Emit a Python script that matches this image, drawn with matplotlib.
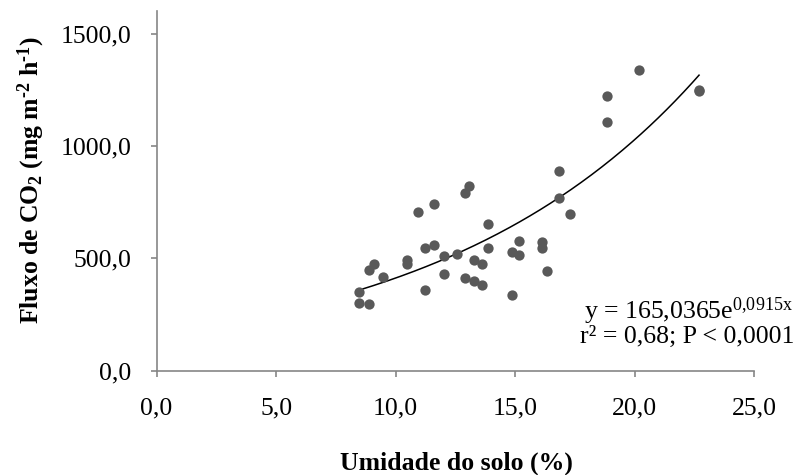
import numpy as np
import matplotlib
matplotlib.use('Agg')
import matplotlib.pyplot as plt

# Soil moisture (%) and CO2 flux (mg m-2 h-1) measurements
umidade = [20.18, 18.83, 18.83, 22.69, 22.69, 16.84, 16.84, 17.31, 13.06, 12.88,
           11.62, 10.92, 13.87, 15.14, 16.14, 16.14, 13.87, 11.62, 11.24, 12.55,
           12.03, 14.87, 15.14, 10.46, 10.46, 13.29, 13.61, 12.03, 16.31, 12.88,
           13.29, 13.61, 11.24, 14.87, 9.46, 9.11, 8.88, 8.48, 8.48, 8.88]
fluxo = [1338, 1222, 1109, 1252, 1244, 891, 769, 698, 823, 793,
         741, 706, 654, 577, 572, 544, 544, 557, 548, 520,
         510, 529, 516, 492, 474, 492, 474, 431, 444, 410,
         398, 379, 360, 336, 418, 476, 449, 351, 302, 295]

# Exponential fit y = a * exp(b * x)
a_fit = 165.0365
b_fit = 0.0915

FS = 18.5

plt.rcParams['font.family'] = 'Liberation Serif'
plt.rcParams['mathtext.fontset'] = 'custom'
plt.rcParams['mathtext.rm'] = 'Liberation Serif'
plt.rcParams['mathtext.bf'] = 'Liberation Serif:bold'
plt.rcParams['mathtext.it'] = 'Liberation Serif:italic'

fig = plt.figure(figsize=(7.99, 4.75), dpi=100)
ax = fig.add_axes([0.196, 0.22, 0.748, 0.756])

ax.scatter(umidade, fluxo, s=55, color='#595959', zorder=3, linewidths=0)

x_fit = np.linspace(min(umidade), max(umidade), 200)
ax.plot(x_fit, a_fit * np.exp(b_fit * x_fit), color='black', linewidth=1.1, zorder=2)

ax.set_xlim(0, 25)
ax.set_ylim(0, 1600)
ax.set_xticks([0, 5, 10, 15, 20, 25])
ax.set_yticks([0, 500, 1000, 1500])
ax.set_xticklabels(['0,0', '5,0', '10,0', '15,0', '20,0', '25,0'])
ax.set_yticklabels(['0,0', '500,0', '1000,0', '1500,0'])

for side in ['top', 'right']:
    ax.spines[side].set_visible(False)
for side in ['left', 'bottom']:
    ax.spines[side].set_color('#868686')
    ax.spines[side].set_linewidth(1.2)

ax.tick_params(axis='x', direction='out', length=4.5, width=1.2, color='#868686',
               labelsize=FS, pad=15)
ax.tick_params(axis='y', direction='out', length=4.5, width=1.2, color='#868686',
               labelsize=FS, pad=13.5)

fig.text(456 / 799, 1 - 470 / 475, 'Umidade do solo (%)', fontsize=FS,
         fontweight='bold', ha='center', va='baseline')
fig.text(31 / 799, 1 - 180 / 475,
         r'$\mathbf{Fluxo\ de\ CO_2\ (mg\ m^{‐2}\ h^{‐1})}$',
         fontsize=FS, rotation=90, ha='center', va='center')

fig.text(793 / 799, 1 - 319 / 475, r'y = 165,0365e$^{\mathrm{0{,}0915x}}$',
         ha='right', va='baseline', fontsize=FS)
fig.text(794 / 799, 1 - 343 / 475, 'r² = 0,68; P < 0,0001',
         ha='right', va='baseline', fontsize=FS)

fig.savefig('out.png', dpi=100)
